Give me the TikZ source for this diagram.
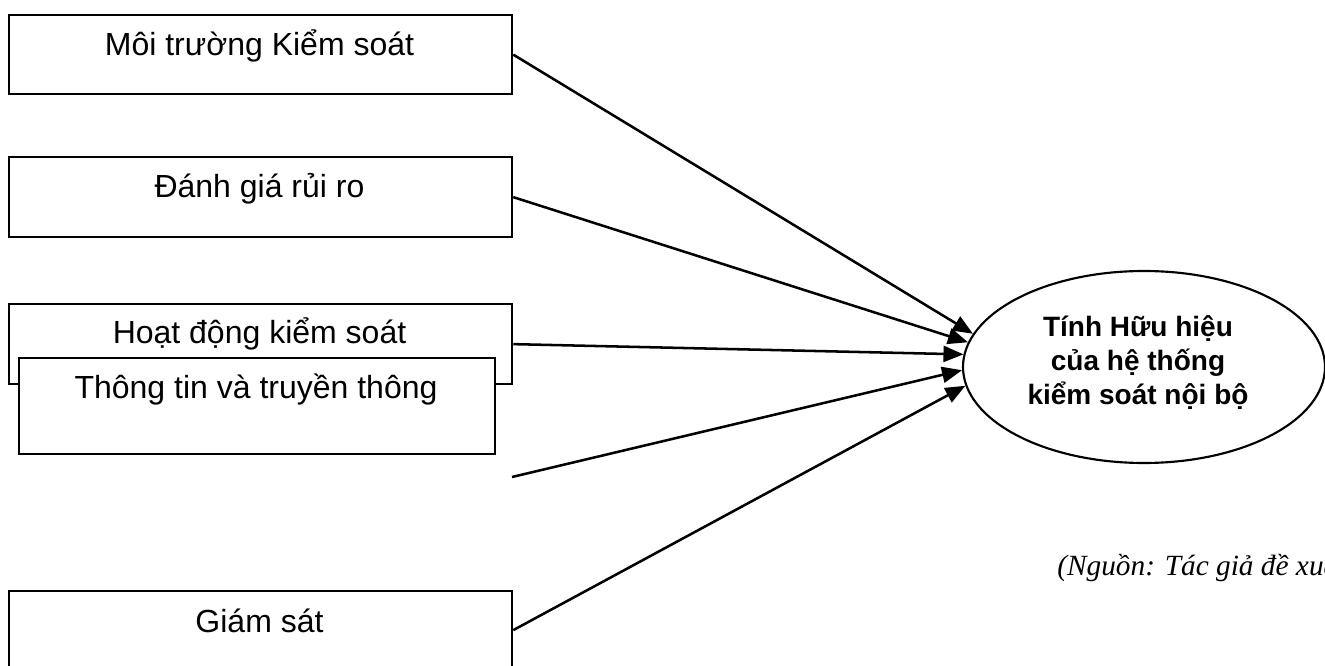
\documentclass[tikz,border=0pt]{standalone}
\usepackage{fontspec}
\setmainfont{Liberation Sans}
\newfontfamily\srcfont{Liberation Serif}
\usetikzlibrary{shapes.geometric,arrows.meta}
\begin{document}
\begin{tikzpicture}[x=0.75pt,y=-0.75pt,
  box/.style={draw=black,line width=1.7pt,fill=white,rectangle,inner sep=0pt,anchor=north west},
  boxtext/.style={anchor=base,inner sep=0pt,font=\fontsize{24}{28}\selectfont},
  conn/.style={line width=1.9pt,-{Triangle[length=15pt,width=12pt]}},
]
\clip (0,0) rectangle (1325,666);
\fill[white] (0,0) rectangle (1325,666);

\node[box,minimum width=377.25pt,minimum height=59.25pt] (b1) at (8,14) {};
\node[boxtext] (b1t) at (259.5,56) {Môi trường Kiểm soát};

\node[box,minimum width=377.25pt,minimum height=60pt] (b2) at (8,156) {};
\node[boxtext] (b2t) at (259.5,198) {Đánh giá rủi ro};

\node[box,minimum width=377.25pt,minimum height=60pt] (b3) at (8,303) {};
\node[boxtext] (b3t) at (259.5,344) {Hoạt động kiểm soát};

\node[box,minimum width=357pt,minimum height=72pt] (b4) at (18,357) {};
\node[boxtext] (b4t) at (256,399) {Thông tin và truyền thông};

\node[box,minimum width=377.25pt,minimum height=58.5pt] (b5) at (8,590) {};
\node[boxtext] (b5t) at (259.5,632) {Giám sát};

\node[ellipse,draw=black,line width=1.6pt,minimum width=271.5pt,minimum height=144pt,inner sep=0pt] (e) at (1144,367) {};
\node[align=center,inner sep=0pt,font=\bfseries\fontsize{21}{25.5}\selectfont] (et) at (1138,363) {Tính Hữu hiệu\\của hệ thống\\kiểm soát nội bộ};

\coordinate (f4) at (512,477);

\draw[conn] (b1.east) -- (e.169.4);
\draw[conn] (b2.east) -- (e.172);
\draw[conn] (b3.east) -- (e.176);
\draw[conn] (f4) -- (e.181);
\draw[conn] (b5.east) -- (e.186);

\node[anchor=base west,inner sep=0pt,font=\srcfont\itshape\fontsize{22}{26}\selectfont] (src) at (1057,575) {(Nguồn: Tác giả đề xuất)};
\end{tikzpicture}
\end{document}
